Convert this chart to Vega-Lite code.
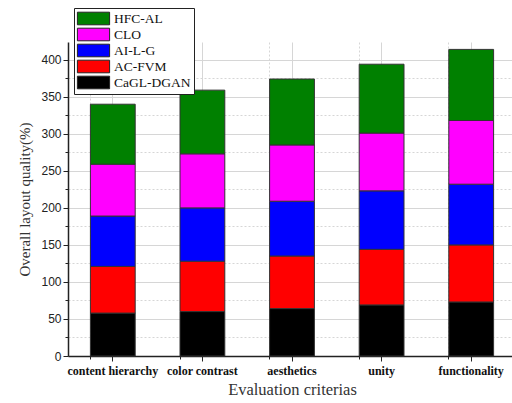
{
  "$schema": "https://vega.github.io/schema/vega-lite/v6.json",
  "width": 444,
  "height": 314,
  "autosize": {"type": "none"},
  "padding": {"left": 68, "top": 42, "right": 0, "bottom": 47},
  "background": "white",
  "config": {"view": {"stroke": null}},
  "data": {
    "values": [
      {"criterion": "content hierarchy", "method": "CaGL-DGAN", "k": 1, "value": 58},
      {"criterion": "content hierarchy", "method": "AC-FVM", "k": 2, "value": 63},
      {"criterion": "content hierarchy", "method": "AI-L-G", "k": 3, "value": 68},
      {"criterion": "content hierarchy", "method": "CLO", "k": 4, "value": 70},
      {"criterion": "content hierarchy", "method": "HFC-AL", "k": 5, "value": 81},
      {"criterion": "color contrast", "method": "CaGL-DGAN", "k": 1, "value": 60},
      {"criterion": "color contrast", "method": "AC-FVM", "k": 2, "value": 68},
      {"criterion": "color contrast", "method": "AI-L-G", "k": 3, "value": 72},
      {"criterion": "color contrast", "method": "CLO", "k": 4, "value": 73},
      {"criterion": "color contrast", "method": "HFC-AL", "k": 5, "value": 86},
      {"criterion": "aesthetics", "method": "CaGL-DGAN", "k": 1, "value": 64},
      {"criterion": "aesthetics", "method": "AC-FVM", "k": 2, "value": 71},
      {"criterion": "aesthetics", "method": "AI-L-G", "k": 3, "value": 74},
      {"criterion": "aesthetics", "method": "CLO", "k": 4, "value": 76},
      {"criterion": "aesthetics", "method": "HFC-AL", "k": 5, "value": 89},
      {"criterion": "unity", "method": "CaGL-DGAN", "k": 1, "value": 69},
      {"criterion": "unity", "method": "AC-FVM", "k": 2, "value": 75},
      {"criterion": "unity", "method": "AI-L-G", "k": 3, "value": 79},
      {"criterion": "unity", "method": "CLO", "k": 4, "value": 78},
      {"criterion": "unity", "method": "HFC-AL", "k": 5, "value": 93},
      {"criterion": "functionality", "method": "CaGL-DGAN", "k": 1, "value": 73},
      {"criterion": "functionality", "method": "AC-FVM", "k": 2, "value": 77},
      {"criterion": "functionality", "method": "AI-L-G", "k": 3, "value": 82},
      {"criterion": "functionality", "method": "CLO", "k": 4, "value": 86},
      {"criterion": "functionality", "method": "HFC-AL", "k": 5, "value": 96}
    ]
  },
  "layer": [
    {
      "mark": {"type": "bar", "stroke": "#333333", "strokeWidth": 1},
      "encoding": {
        "x": {
          "field": "criterion",
          "type": "nominal",
          "sort": ["content hierarchy", "color contrast", "aesthetics", "unity", "functionality"],
          "scale": {"paddingInner": 0.5, "paddingOuter": 0.25, "range": [0, 448]},
          "axis": {
            "title": "Evaluation criterias",
            "labelAngle": 0,
            "bandPosition": 0.5,
            "grid": true,
            "gridColor": "#d6d6d6",
            "gridWidth": 1,
            "tickSize": 5,
            "tickColor": "#222222",
            "domainColor": "#222222",
            "domainWidth": 1.5,
            "labelFont": "Liberation Serif",
            "labelFontWeight": "bold",
            "labelFontSize": 12,
            "labelColor": "#111111",
            "labelPadding": 4,
            "titleFont": "Liberation Serif",
            "titleFontSize": 16.5,
            "titleFontWeight": "normal",
            "titleColor": "#333333",
            "titlePadding": 5
          }
        },
        "y": {
          "field": "value",
          "type": "quantitative",
          "stack": "zero",
          "scale": {"domain": [0, 424], "nice": false},
          "axis": {
            "title": "Overall layout quality(%)",
            "values": [0, 50, 100, 150, 200, 250, 300, 350, 400],
            "grid": true,
            "gridColor": "#d6d6d6",
            "gridWidth": 1,
            "tickSize": 5,
            "tickColor": "#222222",
            "domainColor": "#222222",
            "domainWidth": 1.5,
            "labelFont": "Liberation Sans",
            "labelFontSize": 12,
            "labelColor": "#222222",
            "labelPadding": 2,
            "titleFont": "Liberation Serif",
            "titleFontSize": 15,
            "titleFontWeight": "normal",
            "titleColor": "#333333",
            "titlePadding": 8
          }
        },
        "color": {
          "field": "method",
          "type": "nominal",
          "scale": {
            "domain": ["HFC-AL", "CLO", "AI-L-G", "AC-FVM", "CaGL-DGAN"],
            "range": ["#008000", "#ff00ff", "#0000ff", "#ff0000", "#000000"]
          },
          "legend": {
            "title": null,
            "orient": "none",
            "legendX": 6,
            "legendY": -34,
            "direction": "vertical",
            "strokeColor": "#222222",
            "fillColor": "white",
            "padding": 3,
            "symbolType": "M-2.3,-0.9H2.3V0.9H-2.3Z",
            "symbolSize": 196,
            "symbolOffset": 9,
            "symbolStrokeColor": "#222222",
            "symbolStrokeWidth": 1,
            "symbolOpacity": 1,
            "labelFont": "Liberation Serif",
            "labelFontSize": 13.5,
            "labelColor": "#111111",
            "labelOffset": 13,
            "rowPadding": -3
          }
        },
        "order": {"field": "k", "type": "quantitative"}
      }
    },
    {
      "mark": {"type": "bar", "opacity": 0},
      "encoding": {
        "x": {
          "field": "criterion",
          "type": "nominal",
          "sort": ["content hierarchy", "color contrast", "aesthetics", "unity", "functionality"],
          "axis": {
            "title": null,
            "orient": "bottom",
            "bandPosition": 0,
            "labels": false,
            "domain": false,
            "grid": true,
            "gridDash": [2, 2],
            "gridColor": "#d6d6d6",
            "tickSize": 3,
            "tickColor": "#222222"
          }
        },
        "y": {
          "field": "value",
          "type": "quantitative",
          "stack": null,
          "axis": {
            "title": null,
            "orient": "left",
            "values": [25, 75, 125, 175, 225, 275, 325, 375],
            "labels": false,
            "domain": false,
            "grid": true,
            "gridDash": [2, 2],
            "gridColor": "#d6d6d6",
            "tickSize": 3,
            "tickColor": "#222222"
          }
        }
      }
    }
  ],
  "resolve": {"axis": {"x": "independent", "y": "independent"}}
}
